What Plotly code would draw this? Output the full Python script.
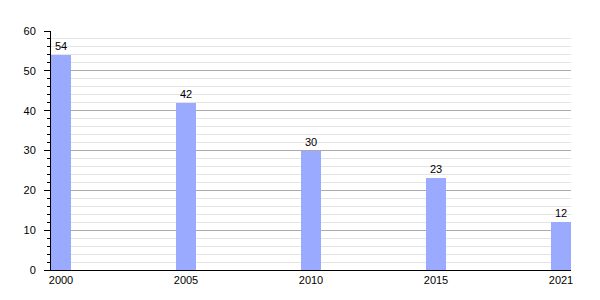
import plotly.graph_objects as go

years = ["2000", "2005", "2010", "2015", "2021"]
values = [54, 42, 30, 23, 12]

fig = go.Figure()
fig.add_trace(go.Bar(
    x=years, y=values, width=0.16,
    marker=dict(color="#99aaff", line=dict(width=0)),
    text=[str(v) for v in values], textposition="outside",
    textfont=dict(family="Liberation Sans, Arial, sans-serif", size=11, color="#000000"),
    cliponaxis=False,
))
fig.update_layout(
    width=600, height=300,
    margin=dict(l=51, r=29, t=31, b=30),
    paper_bgcolor="white", plot_bgcolor="white",
    font=dict(family="Liberation Sans, Arial, sans-serif", size=11, color="#000000"),
    showlegend=False,
    bargap=0,
)
fig.update_xaxes(
    type="category", range=[-0.08, 4.08],
    showline=True, linecolor="#000", linewidth=1,
    showgrid=False, ticks="", ticklen=0,
    tickfont=dict(size=11, color="#000000"),
)
fig.update_yaxes(
    range=[0, 60], dtick=10, tick0=0,
    showline=True, linecolor="#000", linewidth=1,
    ticks="outside", ticklen=6, tickcolor="#000",
    showgrid=True, gridcolor="#aaaaaa", gridwidth=1,
    zeroline=False,
    tickfont=dict(size=11, color="#000000"),
    ticklabelstandoff=6,
    minor=dict(dtick=2, tick0=0, ticks="outside", ticklen=3, tickcolor="#000",
               showgrid=True, gridcolor="#e4e4e4", gridwidth=1),
)
fig.write_html("out.html")
